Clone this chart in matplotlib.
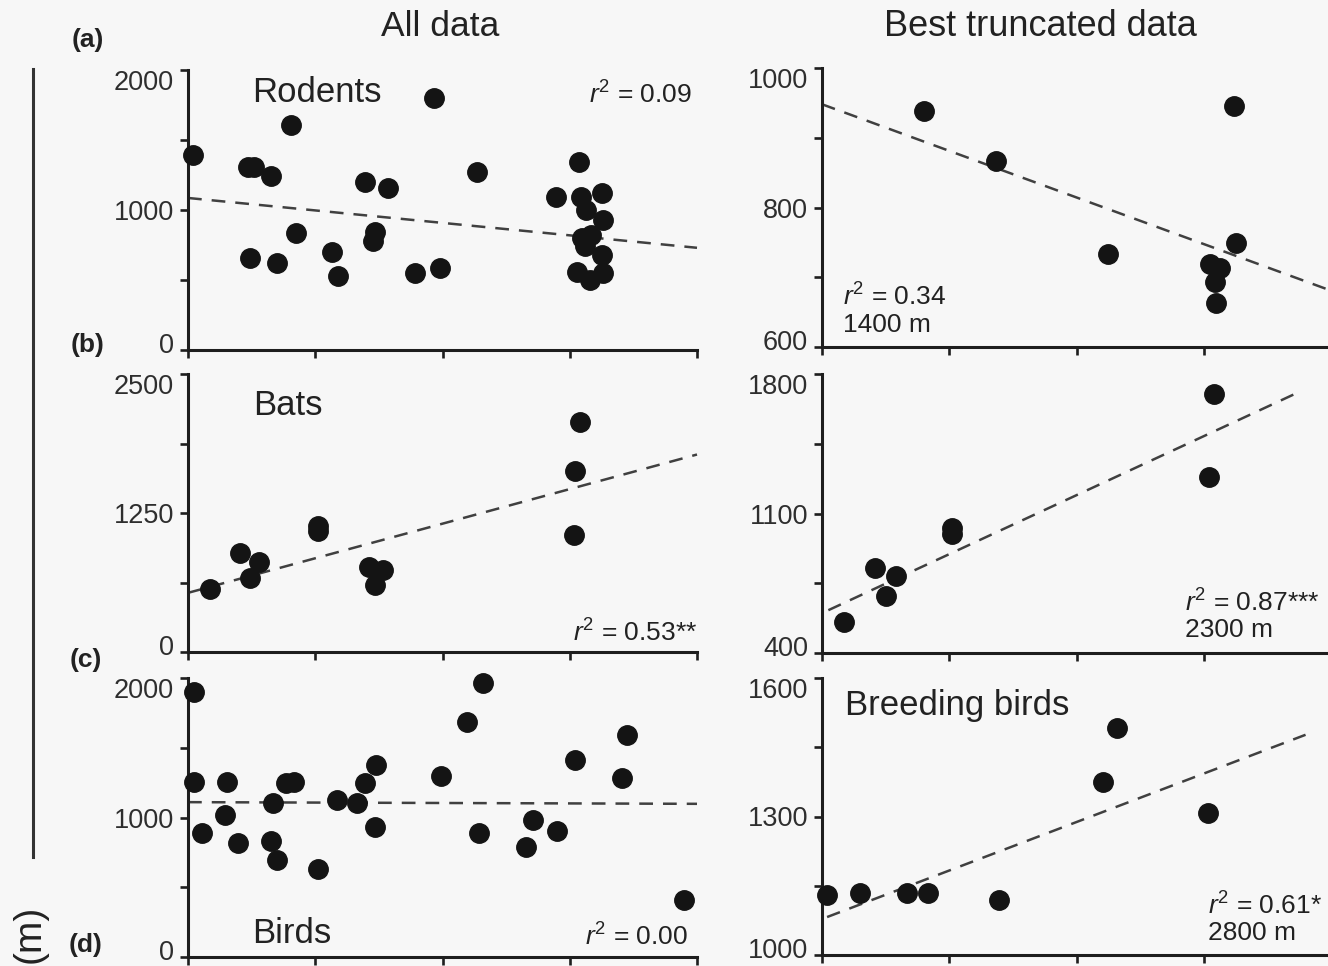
import numpy as np
import matplotlib
matplotlib.use("Agg")
import matplotlib.pyplot as plt
from matplotlib.lines import Line2D
from matplotlib.transforms import ScaledTranslation

plt.rcParams["font.family"] = ["Liberation Sans", "DejaVu Sans"]
plt.rcParams["mathtext.fontset"] = "custom"
plt.rcParams["mathtext.rm"] = "Liberation Sans"
plt.rcParams["mathtext.it"] = "Liberation Sans:italic"

# ---- data (x in tick units, y in metres) ----
rodents_all_x = [0.04, 0.47, 0.52, 0.65, 0.81, 0.49, 0.70, 0.85, 1.13, 1.18, 1.39, 1.57,
                 1.47, 1.45, 1.78, 1.93, 1.98, 2.27, 2.89, 3.07, 3.09, 3.13, 3.25, 3.26,
                 3.10, 3.17, 3.12, 3.25, 3.06, 3.16, 3.26]
rodents_all_y = [1390, 1310, 1310, 1240, 1610, 660, 620, 835, 700, 530, 1200, 1160,
                 840, 780, 550, 1800, 585, 1270, 1090, 1340, 1090, 1000, 1120, 930,
                 800, 820, 740, 680, 560, 500, 550]
rodents_best_x = [0.80, 1.37, 2.25, 3.05, 3.13, 3.09, 3.10, 3.24, 3.25]
rodents_best_y = [938, 867, 733, 719, 713, 693, 663, 946, 749]

bats_all_x = [0.17, 0.41, 0.49, 0.56, 1.02, 1.02, 1.42, 1.53, 1.47, 3.08, 3.04, 3.03]
bats_all_y = [569, 894, 668, 812, 1137, 1092, 767, 740, 605, 2067, 1625, 1056]
bats_best_x = [0.17, 0.42, 0.50, 0.58, 1.02, 1.02, 3.08, 3.04]
bats_best_y = [555, 825, 685, 785, 1025, 995, 1700, 1285]

birds_all_x = [0.05, 0.05, 0.11, 0.31, 0.29, 0.39, 0.67, 0.65, 0.70, 0.77, 0.83, 1.02,
               1.17, 1.33, 1.39, 1.48, 1.47, 1.99, 2.19, 2.32, 2.29, 2.66, 2.71, 2.90,
               3.04, 3.41, 3.45, 3.90]
birds_all_y = [1898, 1258, 892, 1258, 1021, 820, 1107, 834, 697, 1244, 1258, 633,
               1122, 1107, 1244, 1373, 935, 1294, 1682, 1963, 892, 791, 985, 906,
               1409, 1280, 1589, 410]
breeding_best_x = [0.04, 0.30, 0.67, 0.83, 1.39, 2.21, 2.32, 3.03]
breeding_best_y = [1130, 1134, 1134, 1134, 1119, 1375, 1492, 1308]

# regression lines: (x start, x end, intercept, slope)
fit_rodents_all = (0.0, 4.0, 1086, -89)
fit_rodents_best = (0.0, 4.0, 948, -66.8)
fit_bats_all = (0.0, 4.0, 532, 311)
fit_bats_best = (0.05, 3.77, 600, 296)
fit_birds_all = (0.0, 4.0, 1110, -3)
fit_breeding_best = (0.04, 3.80, 1078, 105)

# y ticks (all drawn) and which ones carry a label
yticks_rodents_all = [0, 500, 1000, 1500, 2000]
ylabels_rodents_all = ["0", "", "1000", "", "2000"]
yticks_rodents_best = [600, 700, 800, 900, 1000]
ylabels_rodents_best = ["600", "", "800", "", "1000"]
yticks_bats_all = [0, 625, 1250, 1875, 2500]
ylabels_bats_all = ["0", "", "1250", "", "2500"]
yticks_bats_best = [400, 750, 1100, 1450, 1800]
ylabels_bats_best = ["400", "", "1100", "", "1800"]
yticks_birds_all = [0, 500, 1000, 1500, 2000]
ylabels_birds_all = ["0", "", "1000", "", "2000"]
yticks_breeding_best = [1000, 1150, 1300, 1450, 1600]
ylabels_breeding_best = ["1000", "", "1300", "", "1600"]
xticks = [0, 1, 2, 3, 4]

W, H = 1328, 966
fig = plt.figure(figsize=(W / 100, H / 100), dpi=100, facecolor="#f7f7f7")


def px_axes(left, top, w, h):
    return fig.add_axes([left / W, 1 - (top + h) / H, w / W, h / H])


ink = "#141414"


def panel(ax, x, y, fit, yticks, ylabels):
    ax.set_facecolor("none")
    ax.set_xlim(0, 4)
    ax.set_ylim(yticks[0], yticks[-1])
    ax.set_xticks(xticks)
    ax.set_xticklabels([])
    ax.set_yticks(yticks)
    ax.set_yticklabels(ylabels)
    for s in ["top", "right"]:
        ax.spines[s].set_visible(False)
    for s in ["left", "bottom"]:
        ax.spines[s].set_linewidth(2.2)
        ax.spines[s].set_color("#1e1e1e")
    ax.tick_params(direction="out", length=6, width=1.9, color="#1e1e1e",
                   labelsize=19.5, labelcolor="#2e2e2e", pad=4)
    # end labels sit inside the axis span, as in the original
    labs = ax.get_yticklabels()
    labs[0].set_transform(labs[0].get_transform() +
                          ScaledTranslation(0, 7 / 100, fig.dpi_scale_trans))
    labs[-1].set_transform(labs[-1].get_transform() +
                           ScaledTranslation(0, -10 / 100, fig.dpi_scale_trans))
    x0, x1, b, m = fit
    fx = np.array([x0, x1])
    ax.plot(fx, b + m * fx, color="#404040", lw=1.8, ls=(0, (5.5, 4)),
            clip_on=False, zorder=2)
    ax.plot(x, y, "o", color=ink, ms=14, mec=ink, clip_on=False, zorder=3)


ax_a1 = px_axes(188, 70, 509, 280)
ax_a2 = px_axes(822, 68, 509, 279)
ax_b1 = px_axes(188, 374, 509, 278)
ax_b2 = px_axes(822, 374, 509, 279)
ax_c1 = px_axes(188, 678, 509, 279)
ax_c2 = px_axes(822, 678, 509, 277)

panel(ax_a1, rodents_all_x, rodents_all_y, fit_rodents_all, yticks_rodents_all, ylabels_rodents_all)
panel(ax_a2, rodents_best_x, rodents_best_y, fit_rodents_best, yticks_rodents_best, ylabels_rodents_best)
panel(ax_b1, bats_all_x, bats_all_y, fit_bats_all, yticks_bats_all, ylabels_bats_all)
panel(ax_b2, bats_best_x, bats_best_y, fit_bats_best, yticks_bats_best, ylabels_bats_best)
panel(ax_c1, birds_all_x, birds_all_y, fit_birds_all, yticks_birds_all, ylabels_birds_all)
panel(ax_c2, breeding_best_x, breeding_best_y, fit_breeding_best, yticks_breeding_best, ylabels_breeding_best)

txt = dict(color="#222222", va="center")
name_fs = 25
r_fs = 19

ax_a1.text(0.126, 0.918, "Rodents", transform=ax_a1.transAxes, fontsize=name_fs, **txt)
ax_a1.text(0.99, 0.911, "$r^2$ = 0.09", transform=ax_a1.transAxes, fontsize=r_fs, ha="right", **txt)
ax_a2.text(0.041, 0.179, "$r^2$ = 0.34", transform=ax_a2.transAxes, fontsize=r_fs, **txt)
ax_a2.text(0.041, 0.079, "1400 m", transform=ax_a2.transAxes, fontsize=r_fs, **txt)

ax_b1.text(0.128, 0.888, "Bats", transform=ax_b1.transAxes, fontsize=name_fs, **txt)
ax_b1.text(1.0, 0.068, "$r^2$ = 0.53**", transform=ax_b1.transAxes, fontsize=r_fs, ha="right", **txt)
ax_b2.text(0.713, 0.179, "$r^2$ = 0.87***", transform=ax_b2.transAxes, fontsize=r_fs, **txt)
ax_b2.text(0.713, 0.082, "2300 m", transform=ax_b2.transAxes, fontsize=r_fs, **txt)

ax_c1.text(0.126, 0.086, "Birds", transform=ax_c1.transAxes, fontsize=name_fs, **txt)
ax_c1.text(0.982, 0.072, "$r^2$ = 0.00", transform=ax_c1.transAxes, fontsize=r_fs, ha="right", **txt)
ax_c2.text(0.045, 0.90, "Breeding birds", transform=ax_c2.transAxes, fontsize=name_fs, **txt)
ax_c2.text(0.758, 0.177, "$r^2$ = 0.61*", transform=ax_c2.transAxes, fontsize=r_fs, **txt)
ax_c2.text(0.758, 0.079, "2800 m", transform=ax_c2.transAxes, fontsize=r_fs, **txt)

# column titles and panel letters
fig.text(440 / W, 1 - 27 / H, "All data", fontsize=25.5, ha="center", **txt)
fig.text(1040 / W, 1 - 27 / H, "Best truncated data", fontsize=26, ha="center", **txt)
for lab, xp, yp in [("(a)", 88, 40), ("(b)", 88, 345), ("(c)", 86, 660), ("(d)", 86, 945)]:
    fig.text(xp / W, 1 - yp / H, lab, fontsize=19, fontweight="bold", ha="center", **txt)

# shared y-axis label remnants at the far left
fig.add_artist(Line2D([33 / W, 33 / W], [1 - 69 / H, 1 - 857 / H], color="#333333", lw=2.2))
fig.text(30 / W, 1 - 905 / H, "(m)", fontsize=28, rotation=90, ha="center", va="top", color="#222222")

fig.savefig("out.png", dpi=100, facecolor=fig.get_facecolor())
